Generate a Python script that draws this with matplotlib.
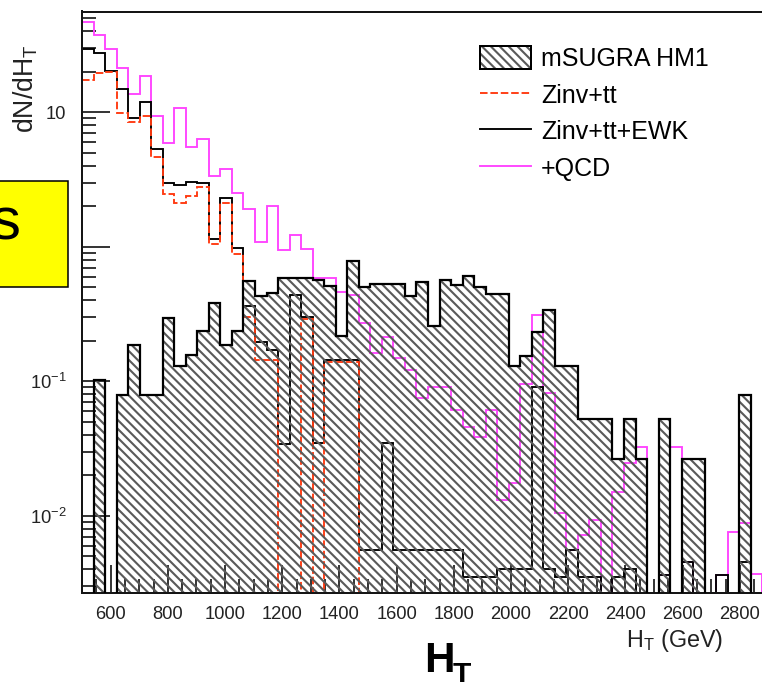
import numpy as np
import matplotlib
matplotlib.use("Agg")
import matplotlib.pyplot as plt
from matplotlib.patches import Rectangle, Patch
from matplotlib.lines import Line2D
from matplotlib.legend_handler import HandlerTuple
from matplotlib.ticker import MultipleLocator, LogLocator, FuncFormatter, NullFormatter

plt.rcParams['font.family'] = ['Liberation Sans', 'DejaVu Sans']
plt.rcParams['mathtext.fontset'] = 'custom'
plt.rcParams['mathtext.rm'] = 'Liberation Sans'
plt.rcParams['mathtext.it'] = 'Liberation Sans:italic'
plt.rcParams['mathtext.bf'] = 'Liberation Sans:bold'
plt.rcParams['hatch.linewidth'] = 1.9

DPI = 80
W, H = 762, 682

# H_T binning (GeV)
ht_lo, ht_hi, n_bins = 500.0, 3000.0, 62
edges = np.linspace(ht_lo, ht_hi, n_bins + 1)

# dN/dH_T per bin
signal = [0, 0.102, 0, 0.079, 0.186, 0.079, 0.079, 0.293, 0.130, 0.156,
          0.238, 0.384, 0.186, 0.238, 0.559, 0.428, 0.452, 0.590, 0.590, 0.590,
          0.565, 0.510, 0.217, 0.780, 0.504, 0.528, 0.530, 0.530, 0.430, 0.550,
          0.257, 0.565, 0.515, 0.610, 0.505, 0.447, 0.447, 0.130, 0.154, 0.233,
          0.338, 0.130, 0.130, 0.052, 0.052, 0.052, 0.0263, 0.052, 0.0263, 0,
          0.052, 0, 0.0263, 0.0263, 0, 0, 0, 0.0789, 0, 0,
          0, 0]
zinv_tt = [17.4, 19.7, 20.0, 9.8, 8.5, 9.4, 4.67, 2.45, 2.10, 2.40,
           2.80, 1.05, 2.10, 0.89, 0.30, 0.144, 0.144, 0, 0, 0.29,
           0, 0.140, 0.140, 0.140, 0, 0, 0, 0, 0, 0,
           0, 0, 0, 0, 0, 0, 0, 0, 0, 0,
           0, 0, 0, 0, 0, 0, 0, 0, 0, 0,
           0, 0, 0, 0, 0, 0, 0, 0, 0, 0,
           0, 0]
zinv_tt_ewk = [29.4, 27.4, 20.4, 14.8, 9.0, 12.0, 5.30, 2.96, 2.88, 3.04,
               2.96, 1.135, 2.30, 0.97, 0.36, 0.197, 0.170, 0.034, 0.437, 0.30,
               0.035, 0.144, 0.144, 0.144, 0.0056, 0.0056, 0.0345, 0.0056, 0.0056, 0.0056,
               0.0056, 0.0056, 0.0056, 0.0035, 0.0035, 0.0035, 0.0040, 0.0040, 0.0040, 0.090,
               0.0040, 0.0035, 0.0056, 0.0035, 0.0035, 0, 0.0035, 0.0040, 0, 0,
               0.0036, 0, 0.0045, 0, 0, 0.0036, 0, 0.0045, 0, 0,
               0, 0]
plus_qcd = [46.6, 37.5, 29.5, 21.4, 13.7, 18.7, 9.37, 5.93, 10.8, 5.48,
            6.32, 3.36, 3.80, 2.52, 1.90, 1.09, 2.01, 0.945, 1.22, 0.96,
            0.589, 0.589, 0.463, 0.437, 0.27, 0.161, 0.214, 0.149, 0.121, 0.0746,
            0.091, 0.091, 0.061, 0.0459, 0.0387, 0.061, 0.0131, 0.0174, 0.096, 0.31,
            0.0813, 0.0104, 0.0056, 0.0072, 0.0093, 0, 0.015, 0.0245, 0.0326, 0,
            0.0036, 0.0326, 0.0045, 0, 0, 0.0036, 0.0076, 0.0088, 0.0037, 0,
            0, 0]

labels = ['mSUGRA HM1', 'Zinv+tt', 'Zinv+tt+EWK', '+QCD']

RED = '#ff3a10'
MAG = '#ff44ff'
HATCH = '#5a5a5a'
SIG_HATCH = '\\\\\\'
FLOOR = 1e-6


def floored(v):
    v = np.asarray(v, dtype=float)
    return np.where(v > 0, v, FLOOR)


fig = plt.figure(figsize=(W / DPI, H / DPI), dpi=DPI)
ax = fig.add_axes([82 / W, 1 - 592.5 / H, 715 / W, 581 / H])

# backgrounds first, so the hatching breaks them up where they run underneath
ax.stairs(floored(plus_qcd), edges, color=MAG, lw=1.7, baseline=None, zorder=1.0)
ax.stairs(floored(zinv_tt_ewk), edges, color='k', lw=1.7, baseline=None, zorder=1.1)
ax.stairs(floored(zinv_tt), edges, color=RED, lw=1.7, ls=(0, (4, 1.5)),
          baseline=None, zorder=1.2)

# signal: transparent hatch + black outline
ax.stairs(floored(signal), edges, fill=True, baseline=FLOOR, facecolor='none',
          edgecolor=HATCH, lw=0, hatch=SIG_HATCH, zorder=2)
ax.stairs(floored(signal), edges, color='k', lw=2.0, baseline=FLOOR, zorder=3)

ax.set_yscale('log')
ax.set_xlim(ht_lo, ht_hi)
ax.set_ylim(2.685e-3, 56.1)
ax.set_axisbelow(True)

ax.xaxis.set_major_locator(MultipleLocator(200))
ax.xaxis.set_minor_locator(MultipleLocator(50))
ax.yaxis.set_major_locator(LogLocator(base=10, numticks=20))
ax.yaxis.set_minor_locator(LogLocator(base=10, subs=np.arange(2, 10), numticks=20))
ax.yaxis.set_minor_formatter(NullFormatter())


def ylab(v, pos):
    e = int(round(np.log10(v)))
    if e == 0:
        return '1'
    if e == 1:
        return '10'
    return '$10^{%d}$' % e


ax.yaxis.set_major_formatter(FuncFormatter(ylab))
ax.xaxis.set_major_formatter(FuncFormatter(lambda v, p: '%d' % v if v < 2900 else ''))

ax.tick_params(which='both', direction='in', width=1.4, colors='k',
               labelcolor='#222222', labelsize=16.5, top=False, right=False)
ax.tick_params(which='major', length=25)
ax.tick_params(which='minor', length=12.5)
ax.tick_params(axis='x', pad=12)
ax.tick_params(axis='y', pad=14)

for side in ['left', 'bottom', 'top']:
    ax.spines[side].set_linewidth(1.8)
    ax.spines[side].set_color('#151515')
ax.spines['right'].set_visible(False)

sig_h = (Patch(facecolor='white', edgecolor=HATCH, lw=0, hatch=SIG_HATCH),
         Patch(facecolor='none', edgecolor='k', lw=1.8))
red_h = Line2D([], [], color=RED, lw=1.7, ls=(0, (4, 1.5)))
blk_h = Line2D([], [], color='k', lw=1.7)
mag_h = Line2D([], [], color=MAG, lw=1.7)
ax.legend([sig_h, red_h, blk_h, mag_h], labels,
          handler_map={tuple: HandlerTuple(ndivide=1)},
          loc='upper left', bbox_to_anchor=(480 / W, 1 - 46 / H),
          bbox_transform=fig.transFigure, frameon=False, fontsize=22.5,
          handlelength=2.05, handleheight=1.05, handletextpad=0.4,
          labelspacing=0.46, borderpad=0, borderaxespad=0)

fig.text(723 / W, 1 - 646.7 / H, r'$\mathrm{H}_{\mathrm{T}}$ (GeV)', ha='right',
         va='baseline', fontsize=21, color='#222222')
fig.text(26 / W, 1 - 44 / H, r'$\mathrm{dN/dH}_{\mathrm{T}}$', rotation=90,
         ha='center', va='top', fontsize=24, color='#222222')

# slide annotations around the plot
fig.add_artist(Rectangle((-10 / W, 1 - 286.5 / H), 78 / W, 105.5 / H,
                         transform=fig.transFigure, facecolor='#ffff00',
                         edgecolor='k', lw=1.4, zorder=5))
fig.text(20 / W, 1 - 240 / H, 's', fontsize=54, ha='right', va='baseline', zorder=6)
fig.text(424 / W, 1 - 672 / H, 'H', fontsize=38, fontweight='bold', va='baseline')
fig.text(453 / W, 1 - 683 / H, 'T', fontsize=27, fontweight='bold', va='baseline')

fig.savefig('out.png', dpi=DPI)
